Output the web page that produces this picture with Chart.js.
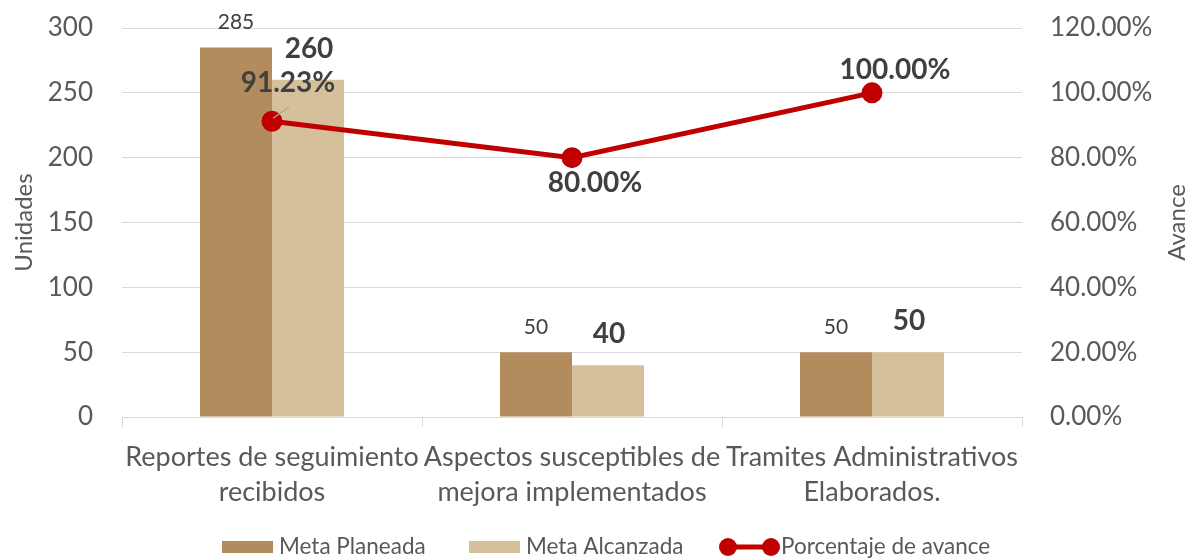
<!DOCTYPE html>
<html>
<head>
<meta charset="utf-8">
<script src="https://cdn.jsdelivr.net/npm/chart.js@4/dist/chart.umd.min.js"></script>
<style>
  html, body { margin: 0; padding: 0; background: #fff; }
  #wrap { width: 1189px; height: 559px; }
</style>
</head>
<body>
<div id="wrap"><canvas id="grafica"></canvas></div>
<script>
// Datos de la gráfica
const categorias = [
    ['Reportes de seguimiento', 'recibidos'],
    ['Aspectos susceptibles de', 'mejora implementados'],
    ['Tramites Administrativos', 'Elaborados.']
];
const metaPlaneada = [285, 50, 50];
const metaAlcanzada = [260, 40, 50];
const porcentajeAvance = [0.9123, 0.80, 1.00];
const ticksUnidades = [0, 50, 100, 150, 200, 250, 300];
const ticksAvance = [0, 0.2, 0.4, 0.6, 0.8, 1.0, 1.2];

const colorPlaneada = '#B28C5C';
const colorAlcanzada = '#D6C09B';
const colorLinea = '#C00000';
const colorTexto = '#595959';
const colorEtiqueta = '#404040';
const fuente = 'Lato, "Open Sans", sans-serif';

// desplazamiento de las etiquetas de porcentaje respecto al punto
const offsetsPorcentaje = [[16, -38], [23, 25], [23, -23]];

function fmtPct(v) {
    return (v * 100).toFixed(2) + '%';
}

// Etiquetas de datos, leyenda y título del eje derecho
const extrasPlugin = {
    id: 'extras',
    afterDatasetsDraw(chart) {
        const ctx = chart.ctx;
        ctx.save();
        ctx.textAlign = 'center';
        ctx.textBaseline = 'middle';
        ctx.fillStyle = colorEtiqueta;

        // Meta planeada (normal)
        const mPlan = chart.getDatasetMeta(1);
        ctx.font = '21px ' + fuente;
        mPlan.data.forEach((bar, i) => {
            ctx.fillText(String(metaPlaneada[i]), bar.x, bar.y - 25);
        });

        // Meta alcanzada (negrita)
        const mAlc = chart.getDatasetMeta(2);
        ctx.font = 'bold 28px ' + fuente;
        mAlc.data.forEach((bar, i) => {
            ctx.fillText(String(metaAlcanzada[i]), bar.x + 1, bar.y - 31);
        });

        // Porcentaje de avance
        const mPct = chart.getDatasetMeta(0);
        mPct.data.forEach((pt, i) => {
            const [dx, dy] = offsetsPorcentaje[i];
            if (i === 0) {
                ctx.strokeStyle = '#A6A6A6';
                ctx.lineWidth = 1.2;
                ctx.beginPath();
                ctx.moveTo(pt.x + 1, pt.y - 3);
                ctx.lineTo(pt.x + 17, pt.y - 14);
                ctx.stroke();
            }
            ctx.fillText(fmtPct(porcentajeAvance[i]), pt.x + dx, pt.y + dy);
        });
        ctx.restore();
    },
    afterDraw(chart) {
        const ctx = chart.ctx;
        const area = chart.chartArea;
        ctx.save();

        // Título eje derecho
        ctx.font = '24px ' + fuente;
        ctx.fillStyle = colorTexto;
        ctx.textAlign = 'center';
        ctx.textBaseline = 'middle';
        ctx.translate(1177, (area.top + area.bottom) / 2);
        ctx.rotate(-Math.PI / 2);
        ctx.fillText('Avance', 0, 0);
        ctx.restore();

        // Leyenda
        ctx.save();
        ctx.font = '22.5px ' + fuente;
        ctx.textBaseline = 'middle';
        ctx.textAlign = 'left';
        const ly = 547;
        ctx.fillStyle = colorPlaneada;
        ctx.fillRect(222, 541, 51, 12);
        ctx.fillStyle = colorTexto;
        ctx.fillText('Meta Planeada', 279, ly);

        ctx.fillStyle = colorAlcanzada;
        ctx.fillRect(469, 541, 51, 12);
        ctx.fillStyle = colorTexto;
        ctx.fillText('Meta Alcanzada', 526, ly);

        ctx.strokeStyle = colorLinea;
        ctx.lineWidth = 5;
        ctx.beginPath();
        ctx.moveTo(728, ly);
        ctx.lineTo(771, ly);
        ctx.stroke();
        ctx.fillStyle = colorLinea;
        [728, 771].forEach(x => {
            ctx.beginPath();
            ctx.arc(x, ly, 9, 0, Math.PI * 2);
            ctx.fill();
        });
        ctx.fillStyle = colorTexto;
        ctx.fillText('Porcentaje de avance', 781, ly);
        ctx.restore();
    }
};

const ctx = document.getElementById('grafica').getContext('2d');
new Chart(ctx, {
    data: {
        labels: categorias,
        datasets: [
            {
                type: 'line',
                label: 'Porcentaje de avance',
                data: porcentajeAvance,
                yAxisID: 'y1',
                borderColor: colorLinea,
                backgroundColor: colorLinea,
                borderWidth: 5,
                pointRadius: 8,
                pointHoverRadius: 8,
                tension: 0,
                order: 0
            },
            {
                type: 'bar',
                label: 'Meta Planeada',
                data: metaPlaneada,
                yAxisID: 'y',
                backgroundColor: colorPlaneada,
                categoryPercentage: 0.48,
                barPercentage: 1.0,
                order: 1
            },
            {
                type: 'bar',
                label: 'Meta Alcanzada',
                data: metaAlcanzada,
                yAxisID: 'y',
                backgroundColor: colorAlcanzada,
                categoryPercentage: 0.48,
                barPercentage: 1.0,
                order: 1
            }
        ]
    },
    options: {
        responsive: true,
        maintainAspectRatio: false,
        animation: false,
        layout: { padding: { top: 28, left: 0, right: 0, bottom: 0 } },
        plugins: {
            legend: { display: false },
            tooltip: { enabled: false }
        },
        scales: {
            x: {
                offset: true,
                grid: {
                    offset: true,
                    drawOnChartArea: false,
                    drawTicks: true,
                    tickLength: 10,
                    color: '#D9D9D9'
                },
                border: { display: true, color: '#D9D9D9' },
                ticks: {
                    color: colorTexto,
                    font: { family: fuente, size: 27, lineHeight: 1.3 },
                    padding: 13,
                    maxRotation: 0,
                    autoSkip: false
                },
                afterFit(scale) { scale.height = 142; }
            },
            y: {
                position: 'left',
                min: 0,
                max: 300,
                afterBuildTicks(scale) { scale.ticks = ticksUnidades.map(v => ({ value: v })); },
                grid: { color: '#D9D9D9', drawTicks: false },
                border: { display: false },
                ticks: {
                    color: colorTexto,
                    font: { family: fuente, size: 26 },
                    padding: 29
                },
                title: {
                    display: true,
                    text: 'Unidades',
                    color: colorTexto,
                    font: { family: fuente, size: 24 },
                    padding: { top: 10, bottom: 0 }
                },
                afterFit(scale) {
                    scale.width = 122;
                    scale.paddingTop = 0;
                    scale.paddingBottom = 0;
                }
            },
            y1: {
                position: 'right',
                min: 0,
                max: 1.2,
                afterBuildTicks(scale) { scale.ticks = ticksAvance.map(v => ({ value: v })); },
                grid: { drawOnChartArea: false, drawTicks: false },
                border: { display: false },
                ticks: {
                    color: colorTexto,
                    font: { family: fuente, size: 26 },
                    padding: 28,
                    callback: v => fmtPct(v)
                },
                afterFit(scale) {
                    scale.width = 167;
                    scale.paddingTop = 0;
                    scale.paddingBottom = 0;
                }
            }
        }
    },
    plugins: [extrasPlugin]
});
</script>
</body>
</html>
